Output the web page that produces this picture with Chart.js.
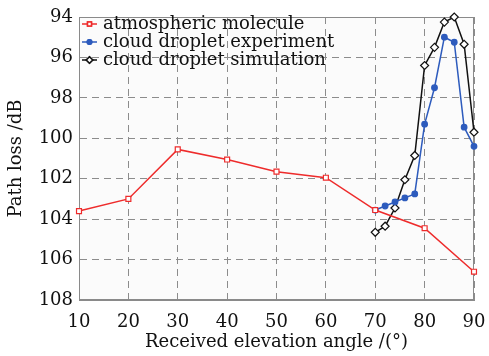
<!DOCTYPE html>
<html>
<head>
<meta charset="utf-8">
<script src="https://cdn.jsdelivr.net/npm/chart.js@4"></script>
<style>
  body { margin: 0; background: #fff; }
  #wrap { width: 489px; height: 356px; }
</style>
</head>
<body>
<div id="wrap"><canvas id="canvas1" width="489" height="356"></canvas></div>
<script>
// data
var moleculeAngle = [10, 20, 30, 40, 50, 60, 70, 80, 90];
var moleculeLoss = [103.6, 103.0, 100.55, 101.05, 101.65, 101.95, 103.55, 104.45, 106.6];

var dropletAngle = [70, 72, 74, 76, 78, 80, 82, 84, 86, 88, 90];
var experimentLoss = [103.55, 103.35, 103.15, 102.95, 102.75, 99.3, 97.5, 95.0, 95.25, 99.45, 100.4];
var simulationLoss = [104.65, 104.35, 103.45, 102.05, 100.85, 96.4, 95.5, 94.25, 94.0, 95.35, 99.7];

var xTicks = [10, 20, 30, 40, 50, 60, 70, 80, 90];
var yTicks = [94, 96, 98, 100, 102, 104, 106, 108];

var fontFamily = '"DejaVu Serif", "Liberation Serif", serif';
var gridColor = '#8c8c8c';

function toPoints(xs, ys) {
    var pts = [];
    for (var i = 0; i < xs.length; i++) pts.push({ x: xs[i], y: ys[i] });
    return pts;
}

var series = [{
    label: 'atmospheric molecule',
    color: '#ee2b2b',
    style: 'rect',
    radius: 3.5,
    fill: '#ffffff',
    data: toPoints(moleculeAngle, moleculeLoss)
}, {
    label: 'cloud droplet experiment',
    color: '#2d5bbd',
    style: 'circle',
    radius: 2.8,
    fill: '#2d5bbd',
    data: toPoints(dropletAngle, experimentLoss)
}, {
    label: 'cloud droplet simulation',
    color: '#111111',
    style: 'rectRot',
    radius: 4,
    fill: '#ffffff',
    data: toPoints(dropletAngle, simulationLoss)
}];

// solid frame round the plot area
var plotFrame = {
    id: 'plotFrame',
    beforeDraw: function (chart) {
        var a = chart.chartArea;
        chart.ctx.save();
        chart.ctx.fillStyle = '#fbfbfb';
        chart.ctx.fillRect(a.left, a.top, a.right - a.left, a.bottom - a.top);
        chart.ctx.restore();
    },
    beforeDatasetsDraw: function (chart) {
        var a = chart.chartArea;
        var ctx = chart.ctx;
        ctx.save();
        ctx.strokeStyle = '#8a8a8a';
        ctx.lineWidth = 1;
        ctx.strokeRect(a.left + 0.5, a.top + 0.5, a.right - a.left - 1, a.bottom - a.top - 1);
        ctx.restore();
    }
};

// legend drawn inside the plot, line + marker + text
var innerLegend = {
    id: 'innerLegend',
    afterDraw: function (chart) {
        var ctx = chart.ctx;
        var left = chart.chartArea.left;
        ctx.save();
        ctx.font = '18px ' + fontFamily;
        ctx.textBaseline = 'middle';
        series.forEach(function (s, i) {
            var y = 24 + i * 18;
            ctx.strokeStyle = s.color;
            ctx.lineWidth = 1.5;
            ctx.beginPath();
            ctx.moveTo(left + 3, y);
            ctx.lineTo(left + 18, y);
            ctx.stroke();
            ctx.fillStyle = s.fill;
            Chart.helpers.drawPoint(ctx, { pointStyle: s.style, radius: s.radius * 0.8, borderWidth: 1.2 }, left + 10.5, y);
            ctx.fill();
            ctx.stroke();
            ctx.fillStyle = '#111';
            ctx.fillText(s.label, left + 24, y);
        });
        ctx.restore();
    }
};

var ctx1 = document.getElementById('canvas1').getContext('2d');
window.myLine = new Chart(ctx1, {
    type: 'line',
    data: {
        datasets: series.map(function (s) {
            return {
                label: s.label,
                data: s.data,
                borderColor: s.color,
                backgroundColor: s.fill,
                borderWidth: 1.5,
                pointStyle: s.style,
                pointRadius: s.radius,
                pointBorderWidth: 1.2,
                pointBackgroundColor: s.fill,
                pointBorderColor: s.color,
                tension: 0,
                clip: false
            };
        })
    },
    options: {
        responsive: false,
        animation: false,
        layout: { padding: { top: 17, right: 15, left: 0, bottom: 0 } },
        plugins: {
            legend: { display: false },
            tooltip: { enabled: false }
        },
        scales: {
            x: {
                type: 'linear',
                min: 10,
                max: 90,
                afterBuildTicks: function (scale) {
                    scale.ticks = xTicks.map(function (v) { return { value: v }; });
                },
                afterFit: function (scale) {
                    scale.height = 56;
                    scale.paddingLeft = 0;
                    scale.paddingRight = 0;
                },
                grid: {
                    color: gridColor,
                    lineWidth: 1,
                    drawTicks: false
                },
                border: { display: true, color: '#8a8a8a', width: 1, dash: [7, 5] },
                ticks: {
                    color: '#111',
                    padding: 12,
                    font: { family: fontFamily, size: 18 },
                    maxRotation: 0
                },
                title: {
                    display: true,
                    text: 'Received elevation angle /(°)',
                    color: '#111',
                    padding: { top: 0, bottom: 3 },
                    font: { family: fontFamily, size: 18 }
                }
            },
            y: {
                type: 'linear',
                reverse: true,
                min: 94,
                max: 108,
                afterBuildTicks: function (scale) {
                    scale.ticks = yTicks.map(function (v) { return { value: v }; });
                },
                afterFit: function (scale) { scale.width = 79; },
                grid: {
                    color: gridColor,
                    lineWidth: 1,
                    drawTicks: false
                },
                border: { display: true, color: '#8a8a8a', width: 1, dash: [7, 5] },
                ticks: {
                    color: '#111',
                    padding: 6,
                    font: { family: fontFamily, size: 18 }
                },
                title: {
                    display: true,
                    text: 'Path loss /dB',
                    color: '#111',
                    padding: { top: 6, bottom: 0 },
                    font: { family: fontFamily, size: 18 }
                }
            }
        }
    },
    plugins: [plotFrame, innerLegend]
});
</script>
</body>
</html>
